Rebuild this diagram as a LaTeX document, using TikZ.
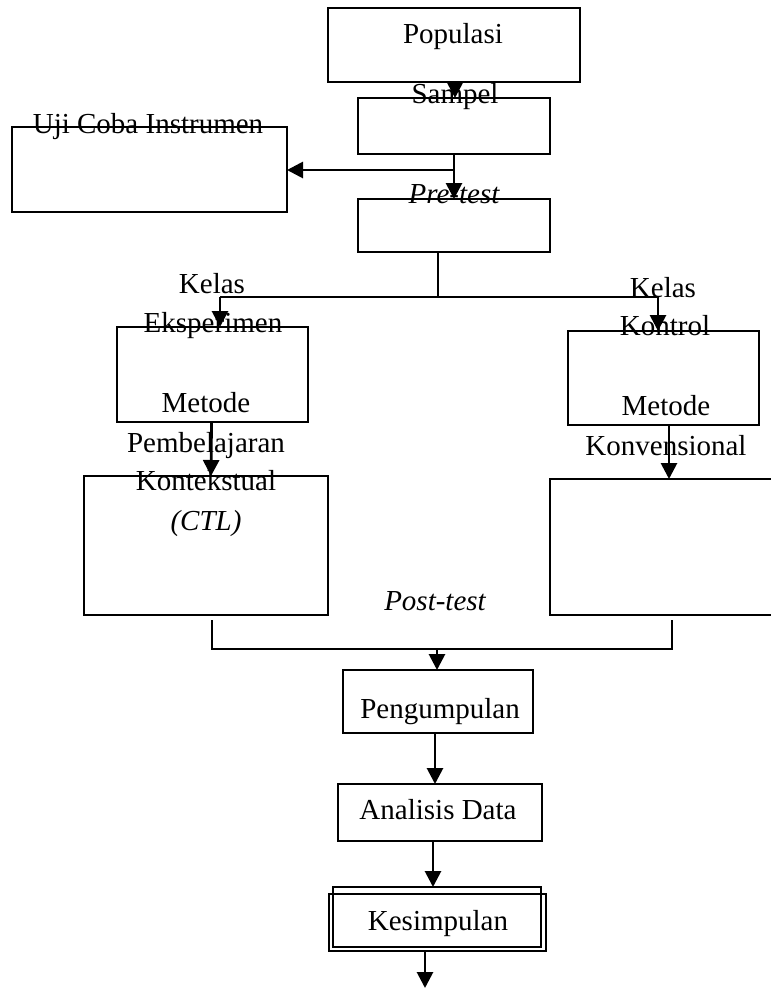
\documentclass[tikz,border=0pt]{standalone}
\usepackage{fontspec}
\setmainfont{Liberation Serif}
\usetikzlibrary{arrows.meta,calc}
\begin{document}
\begin{tikzpicture}[x=1pt,y=-1pt,
  box/.style={draw,line width=1.8pt,rectangle,inner sep=0pt,outer sep=0pt},
  lbl/.style={anchor=base,inner sep=0pt,font=\fontsize{29}{34}\selectfont},
  ilbl/.style={lbl,font=\fontsize{29}{34}\selectfont\itshape},
  arr/.style={line width=2.8pt,-{Triangle[width=16pt,length=16pt]}},
  ln/.style={line width=1.7pt}]
\useasboundingbox (0,0) rectangle (771,988);
\begin{scope}
\clip (0,0) rectangle (771,988);
% boxes
\node[box,minimum width=252pt,minimum height=74pt] (pop) at (454,45) {};
\node[box,minimum width=192pt,minimum height=56pt] (samp) at (454,126) {};
\node[box,minimum width=192pt,minimum height=53pt] (pre) at (454,225.5) {};
\node[box,minimum width=275pt,minimum height=85pt] (uji) at (149.5,169.5) {};
\node[box,minimum width=191pt,minimum height=95pt] (eks) at (212.5,374.5) {};
\node[box,minimum width=191pt,minimum height=94pt] (kon) at (663.5,378) {};
\node[box,minimum width=244pt,minimum height=139pt] (ctl) at (206,545.5) {};
\node[box,minimum width=230pt,minimum height=136pt] (konv) at (665,547) {};
\node[box,minimum width=190pt,minimum height=63pt] (peng) at (438,701.5) {};
\node[box,minimum width=204pt,minimum height=57pt] (ana) at (440,812.5) {};
\node[box,minimum width=208pt,minimum height=60pt] (kesa) at (437,917) {};
\node[box,minimum width=217pt,minimum height=57pt] (kes) at (437.5,922.5) {};
% labels
\node[lbl] (tpop) at (453,43) {Populasi};
\node[lbl] (tsamp) at (455,103) {Sampel};
\node[ilbl] (tpre) at (454,203) {Pre-test};
\node[lbl] (tuji) at (148,133) {Uji Coba Instrumen};
\node[lbl] (tkel1) at (212,293) {Kelas};
\node[lbl] (teks) at (213,332) {Eksperimen};
\node[lbl] (tmet1) at (206,412) {Metode};
\node[lbl] (tpem) at (206,452) {Pembelajaran};
\node[lbl] (tkont) at (206,490) {Kontekstual};
\node[ilbl] (tctl) at (206,530) {(CTL)};
\node[lbl] (tkel2) at (663,297) {Kelas};
\node[lbl] (tkon) at (665,335) {Kontrol};
\node[lbl] (tmet2) at (666,415) {Metode};
\node[lbl] (tkonv) at (666,455) {Konvensional};
\node[ilbl] (tpost) at (435,610) {Post-test};
\node[lbl] (tpeng) at (440,718) {Pengumpulan};
\node[lbl] (tana) at (438,819) {Analisis Data};
\node[lbl] (tkes) at (438,930) {Kesimpulan};
% coordinates
\coordinate (split) at (454,170);
\coordinate (bl) at (220,297);
\coordinate (br) at (658,297);
\coordinate (bm) at (438,297);
\coordinate (ml) at (212,649);
\coordinate (mr) at (672,649);
\coordinate (mm) at (437,649);
\coordinate (endpt) at (425,988);
% connectors
\draw[arr] (pop.south -| 455,0) -- (samp.north -| 455,0);
\draw[arr] (samp.south) -- (pre.north);
\draw[arr] (split) -- (uji.east |- split);
\draw[ln] (pre.south -| bm) -- (bm);
\draw[ln] (bl) -- (br);
\draw[arr] (bl) -- (eks.north -| bl);
\draw[arr] (br) -- (kon.north -| br);
\draw[arr] ($(eks.south)+(-1,0)$) -- ($(ctl.north)+(5,0)$);
\draw[arr] (kon.south -| 669,0) -- (konv.north -| 669,0);
\draw[ln] (212,620) -- (ml) -- (mr) -- (672,620);
\draw[arr] (mm) -- (peng.north -| mm);
\draw[arr] (peng.south -| 435,0) -- (ana.north -| 435,0);
\draw[arr] (ana.south -| 433,0) -- (kesa.north -| 433,0);
\draw[arr] (kes.south -| endpt) -- (endpt);
\end{scope}
\end{tikzpicture}
\end{document}
